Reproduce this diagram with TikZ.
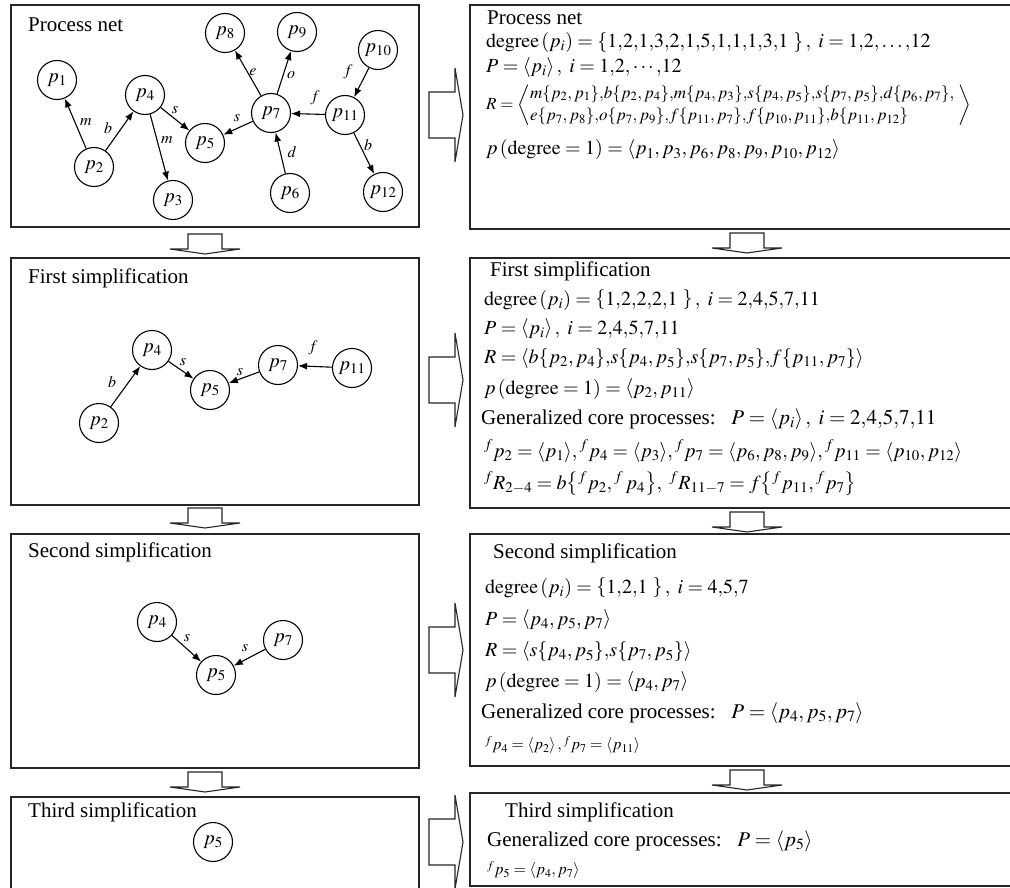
\documentclass[tikz,border=0pt]{standalone}
\usepackage{mathptmx}
\usepackage[no-math]{fontspec}
\setmainfont{Liberation Serif}
\usetikzlibrary{arrows.meta}
\tikzset{
  box/.style={draw=black!85, line width=1.3pt},
  pn/.style={draw, circle, line width=1.1pt, minimum size=39pt, inner sep=0pt, font=\fontsize{20}{24}\selectfont},
  edge/.style={line width=1.1pt, -{Latex[length=9pt,width=7pt]}},
  lbl/.style={font=\fontsize{16}{18}\selectfont, inner sep=0pt},
  ttl/.style={anchor=west, font=\fontsize{21}{25}\selectfont, inner sep=0pt},
  eq/.style={anchor=west, font=\fontsize{20}{24}\selectfont, inner sep=0pt},
  eqm/.style={anchor=west, font=\fontsize{17}{20}\selectfont, inner sep=0pt},
  eqs/.style={anchor=west, font=\fontsize{16}{19}\selectfont, inner sep=0pt},
  blk/.style={draw=black!85, line width=1.1pt, fill=white, line join=miter},
}
\newcommand{\DownArr}[2]{\draw[blk, shift={(#1,#2)}] (-35,15) -- (-17,15) -- (-17,0) -- (17,0) -- (17,15) -- (35,15) -- (0,20) -- cycle;}
\newcommand{\RightArr}[1]{\draw[blk, shift={(429,#1)}] (0,-23) -- (26,-23) -- (26,-47) -- (34,0) -- (26,47) -- (26,23) -- (0,23) -- cycle;}
\newcommand{\cm}{\mathord{,}}
\newcommand{\cms}{\mathord{,}\,}
\begin{document}
\begin{tikzpicture}[x=1pt,y=-1pt]
\path[use as bounding box] (0,0) rectangle (1010,888);
\clip (0,0) rectangle (1010,888);
\fill[white] (0,0) rectangle (1010,888);

% ---------- left boxes ----------
\draw[box] (11,5) rectangle (419,227);
\draw[box] (11,258) rectangle (419,505);
\draw[box] (11,534) rectangle (419,768);
\draw[box] (11,797) rectangle (419,900);

% ---------- right boxes ----------
\draw[box] (470,5) rectangle (1020,229);
\draw[box] (470,258) rectangle (1020,508);
\draw[box] (470,534) rectangle (1020,766);
\draw[box] (470,793) rectangle (1020,886);

% ---------- block arrows ----------
\DownArr{205}{234}
\DownArr{205}{508}
\DownArr{205}{772}
\DownArr{747}{233}
\DownArr{747}{512}
\DownArr{747}{770}
\RightArr{115}
\RightArr{380}
\RightArr{650}
\RightArr{842}

% ---------- box 1: process net ----------
\node[ttl] (t1) at (28,25) {Process net};
\node[pn] (a1) at (57,80) {$p_{1}$};
\node[pn] (a2) at (94,167) {$p_{2}$};
\node[pn] (a3) at (173,200) {$p_{3}$};
\node[pn] (a4) at (145,95) {$p_{4}$};
\node[pn] (a5) at (205,143) {$p_{5}$};
\node[pn] (a6) at (290,193) {$p_{6}$};
\node[pn] (a7) at (271,113) {$p_{7}$};
\node[pn] (a8) at (225,33) {$p_{8}$};
\node[pn] (a9) at (297,32) {$p_{9}$};
\node[pn] (a10) at (378,50) {$p_{10}$};
\node[pn] (a11) at (345,115) {$p_{11}$};
\node[pn] (a12) at (383,192) {$p_{12}$};
\draw[edge] (a2) -- (a1);
\draw[edge] (a2) -- (a4);
\draw[edge] (a4) -- (a3);
\draw[edge] (a4) -- (a5);
\draw[edge] (a7) -- (a5);
\draw[edge] (a6) -- (a7);
\draw[edge] (a7) -- (a8);
\draw[edge] (a7) -- (a9);
\draw[edge] (a11) -- (a7);
\draw[edge] (a10) -- (a11);
\draw[edge] (a11) -- (a12);
\node[lbl] (la1) at (86,122) {$m$};
\node[lbl] (la2) at (108,128) {$b$};
\node[lbl] (la3) at (167,140) {$m$};
\node[lbl] (la4) at (175,110) {$s$};
\node[lbl] (la5) at (237,118) {$s$};
\node[lbl] (la6) at (292,152) {$d$};
\node[lbl] (la7) at (253,72) {$e$};
\node[lbl] (la8) at (291,75) {$o$};
\node[lbl] (la9) at (315,98) {$f$};
\node[lbl] (la10) at (348,72) {$f$};
\node[lbl] (la11) at (368,145) {$b$};

% ---------- box 2 ----------
\node[ttl] (t2) at (28,278) {First simplification};
\node[pn] (b2) at (99,423) {$p_{2}$};
\node[pn] (b4) at (152,350) {$p_{4}$};
\node[pn] (b5) at (210,390) {$p_{5}$};
\node[pn] (b7) at (278,365) {$p_{7}$};
\node[pn] (b11) at (352,368) {$p_{11}$};
\draw[edge] (b2) -- (b4);
\draw[edge] (b4) -- (b5);
\draw[edge] (b7) -- (b5);
\draw[edge] (b11) -- (b7);
\node[lbl] (lb1) at (112,382) {$b$};
\node[lbl] (lb2) at (183,362) {$s$};
\node[lbl] (lb3) at (240,372) {$s$};
\node[lbl] (lb4) at (313,348) {$f$};

% ---------- box 3 ----------
\node[ttl] (t3) at (28,552) {Second simplification};
\node[pn] (c4) at (157,622) {$p_{4}$};
\node[pn] (c5) at (216,675) {$p_{5}$};
\node[pn] (c7) at (283,640) {$p_{7}$};
\draw[edge] (c4) -- (c5);
\draw[edge] (c7) -- (c5);
\node[lbl] (lc1) at (187,638) {$s$};
\node[lbl] (lc2) at (245,648) {$s$};

% ---------- box 4 ----------
\node[ttl] (t4) at (28,812) {Third simplification};
\node[pn] (d5) at (213,842) {$p_{5}$};

% ---------- right box 1 ----------
\node[ttl] (r1t) at (487,18) {Process net};
\node[eq] (r1a) at (486,43) {$\mathrm{degree}\left(p_{i}\right)=\left\{1\cm2\cm1\cm3\cm2\cm1\cm5\cm1\cm1\cm1\cm3\cm1\ \right\},\ i=1\cm2\cm\ldots\cm12$};
\node[eq] (r1b) at (486,68) {$P=\left\langle p_{i}\right\rangle,\ i=1\cm2\cm\cdots\cm12$};
\node[eqm] (r1c) at (486,105) {\renewcommand{\arraystretch}{1.12}$R=\left\langle\begin{array}{@{}l@{}}
m\{p_{2},p_{1}\}\cm b\{p_{2},p_{4}\}\cm m\{p_{4},p_{3}\}\cm s\{p_{4},p_{5}\}\cm s\{p_{7},p_{5}\}\cm d\{p_{6},p_{7}\}\cm\\
e\{p_{7},p_{8}\}\cm o\{p_{7},p_{9}\}\cm f\{p_{11},p_{7}\}\cm f\{p_{10},p_{11}\}\cm b\{p_{11},p_{12}\}
\end{array}\;\right\rangle$};
\node[eq] (r1d) at (486,150) {$p\left(\mathrm{degree}=1\right)=\left\langle p_{1},p_{3},p_{6},p_{8},p_{9},p_{10},p_{12}\right\rangle$};

% ---------- right box 2 ----------
\node[ttl] (r2t) at (490,271) {First simplification};
\node[eq] (r2a) at (484,300) {$\mathrm{degree}\left(p_{i}\right)=\left\{1\cm2\cm2\cm2\cm1\ \right\},\ i=2\cm4\cm5\cm7\cm11$};
\node[eq] (r2b) at (484,329) {$P=\left\langle p_{i}\right\rangle,\ i=2\cm4\cm5\cm7\cm11$};
\node[eq] (r2c) at (484,359) {$R=\left\langle b\{p_{2},p_{4}\}\cm s\{p_{4},p_{5}\}\cm s\{p_{7},p_{5}\}\cm f\{p_{11},p_{7}\}\right\rangle$};
\node[eq] (r2d) at (484,389) {$p\left(\mathrm{degree}=1\right)=\left\langle p_{2},p_{11}\right\rangle$};
\node[ttl] (r2e) at (481,419) {Generalized core processes:\enspace\ $P=\left\langle p_{i}\right\rangle,\ i=2\cm4\cm5\cm7\cm11$};
\node[eq] (r2f) at (484,451) {${}^{f}p_{2}=\langle p_{1}\rangle\cms{}^{f}p_{4}=\langle p_{3}\rangle\cms{}^{f}p_{7}=\langle p_{6},p_{8},p_{9}\rangle\cms{}^{f}p_{11}=\langle p_{10},p_{12}\rangle$};
\node[eq] (r2g) at (484,484) {${}^{f}R_{2-4}=b\bigl\{{}^{f}p_{2}\cms{}^{f}\,p_{4}\bigr\},\ {}^{f}R_{11-7}=f\bigl\{{}^{f}p_{11}\cms{}^{f}p_{7}\bigr\}$};

% ---------- right box 3 ----------
\node[ttl] (r3t) at (493,553) {Second simplification};
\node[eq] (r3a) at (485,588) {$\mathrm{degree}\left(p_{i}\right)=\left\{1\cm2\cm1\ \right\},\ i=4\cm5\cm7$};
\node[eq] (r3b) at (485,620) {$P=\left\langle p_{4},p_{5},p_{7}\right\rangle$};
\node[eq] (r3c) at (485,652) {$R=\left\langle s\{p_{4},p_{5}\}\cm s\{p_{7},p_{5}\}\right\rangle$};
\node[eq] (r3d) at (485,682) {$p\left(\mathrm{degree}=1\right)=\left\langle p_{4},p_{7}\right\rangle$};
\node[ttl] (r3e) at (481,713) {Generalized core processes:\enspace\ $P=\left\langle p_{4},p_{5},p_{7}\right\rangle$};
\node[eqs] (r3f) at (485,745) {${}^{f}p_{4}=\left\langle p_{2}\right\rangle\cms{}^{f}p_{7}=\left\langle p_{11}\right\rangle$};

% ---------- right box 4 ----------
\node[ttl] (r4t) at (505,812) {Third simplification};
\node[ttl] (r4a) at (487,841) {Generalized core processes:\enspace\ $P=\left\langle p_{5}\right\rangle$};
\node[eqs] (r4b) at (487,870) {${}^{f}p_{5}=\left\langle p_{4},p_{7}\right\rangle$};
\end{tikzpicture}
\end{document}
